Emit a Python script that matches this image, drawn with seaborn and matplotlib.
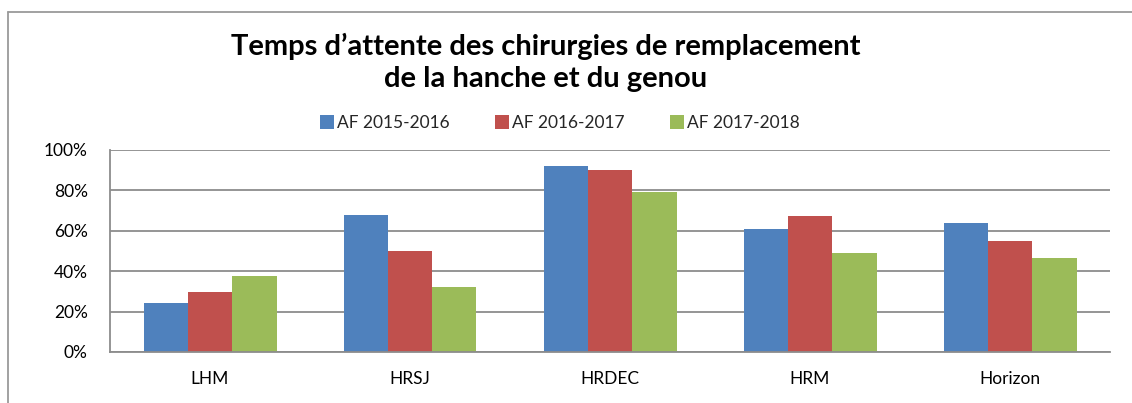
import matplotlib
matplotlib.use("Agg")
import matplotlib.pyplot as plt
import seaborn as sns
import pandas as pd
from matplotlib.lines import Line2D
from matplotlib.ticker import PercentFormatter

categories = ["LHM", "HRSJ", "HRDEC", "HRM", "Horizon"]
series = ["AF 2015-2016", "AF 2016-2017", "AF 2017-2018"]
v2015 = [24.3, 68.0, 92.0, 60.7, 63.9]
v2016 = [29.5, 50.0, 90.0, 67.3, 54.8]
v2017 = [37.6, 32.0, 79.4, 49.2, 46.4]
colors = ["#4F81BD", "#C0504D", "#9BBB59"]

rows = []
for s, vals in zip(series, [v2015, v2016, v2017]):
    for c, v in zip(categories, vals):
        rows.append({"cat": c, "serie": s, "val": v})
df = pd.DataFrame(rows)

sns.set_theme(style="white")
plt.rcParams["font.family"] = ["Lato", "DejaVu Sans"]

W, H = 1132, 403
fig = plt.figure(figsize=(W / 100, H / 100), dpi=100)
ax = fig.add_axes([110 / W, 1 - 352 / H, 1000 / W, 202 / H])

sns.barplot(data=df, x="cat", y="val", hue="serie", order=categories,
            hue_order=series, palette=colors, width=0.665, saturation=1,
            ax=ax, legend=False, linewidth=0)

ax.set_ylim(0, 100)
ax.set_xlim(-0.5, len(categories) - 0.5)
ax.set_yticks([0, 20, 40, 60, 80, 100])
ax.yaxis.set_major_formatter(PercentFormatter(decimals=0))
ax.set_xlabel("")
ax.set_ylabel("")
ax.grid(axis="y", color="#8C8C8C", linewidth=1.3)
ax.set_axisbelow(True)
for side in ["top", "right"]:
    ax.spines[side].set_visible(False)
for side in ["left", "bottom"]:
    ax.spines[side].set_color("#8C8C8C")
    ax.spines[side].set_linewidth(1.3)
ax.tick_params(axis="y", labelsize=12.5, pad=16, length=0, colors="black")
ax.tick_params(axis="x", labelsize=12.5, pad=14, length=0, colors="black")

fig.text(546 / W, 1 - 46 / H, "Temps d\u2019attente des chirurgies de remplacement",
         ha="center", va="center", fontsize=21, fontweight="bold", color="black")
fig.text(546 / W, 1 - 79 / H, "de la hanche et du genou",
         ha="center", va="center", fontsize=21, fontweight="bold", color="black")

handles = [Line2D([0], [0], marker="s", linestyle="", markersize=10,
                  markerfacecolor=c, markeredgewidth=0) for c in colors]
fig.legend(handles, series, loc="center", bbox_to_anchor=(560 / W, 1 - 123 / H),
           ncol=3, frameon=False, fontsize=12.5, handlelength=0.8,
           handletextpad=0.2, columnspacing=2.6)

fig.add_artist(Line2D([8 / W, 1], [1 - 12 / H, 1 - 12 / H], transform=fig.transFigure,
                      color="#9A9A9A", linewidth=1.3))
fig.add_artist(Line2D([8 / W, 8 / W], [0, 1 - 12 / H], transform=fig.transFigure,
                      color="#9A9A9A", linewidth=1.3))

fig.savefig("out.png", dpi=100)
